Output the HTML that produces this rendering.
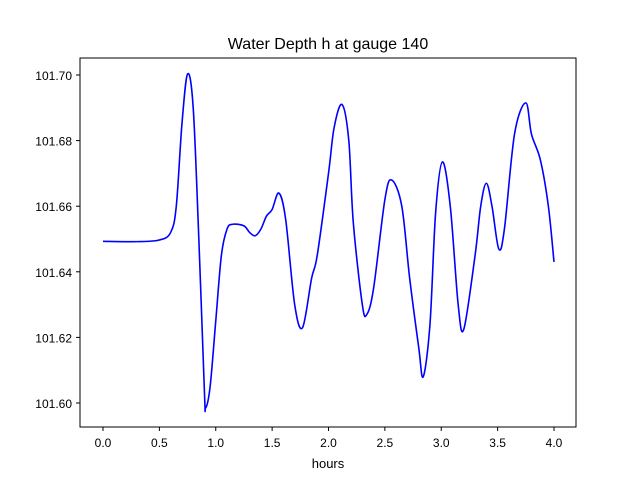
<!DOCTYPE html>
<html><head><meta charset="utf-8"><style>
body{margin:0;background:#fff;}
svg text{font-family:"Liberation Sans","DejaVu Sans",sans-serif;fill:#000;}
</style></head><body>
<svg id="chart" width="640" height="480">
<rect width="640" height="480" fill="#fff"/>
<text x="328" y="49" font-size="16" text-anchor="middle">Water Depth h at gauge 140</text>
<text x="328" y="468" font-size="13" text-anchor="middle">hours</text>
<g id="ticks"></g>
<path id="line" fill="none" stroke="#0000ff" stroke-width="1.6"/>
<rect x="80" y="58" width="496" height="369" fill="none" stroke="#000" stroke-width="1"/>
</svg>
<script>
const hours=[0,0.3,0.5,0.6,0.65,0.7,0.75,0.8,0.85,0.9,0.91,0.95,1.0,1.05,1.1,1.15,1.25,1.3,1.35,1.4,1.45,1.5,1.56,1.62,1.7,1.77,1.85,1.9,2.0,2.05,2.12,2.18,2.22,2.3,2.34,2.4,2.5,2.56,2.65,2.72,2.8,2.84,2.9,2.95,3.01,3.08,3.15,3.2,3.3,3.35,3.4,3.45,3.51,3.56,3.65,3.75,3.8,3.88,3.95,4.0];
const depth=[101.6493,101.6492,101.6497,101.652,101.66,101.685,101.7003,101.69,101.65,101.603,101.5985,101.605,101.625,101.645,101.653,101.6545,101.654,101.652,101.651,101.653,101.657,101.659,101.664,101.656,101.630,101.623,101.638,101.645,101.670,101.684,101.691,101.68,101.655,101.630,101.627,101.635,101.662,101.668,101.660,101.638,101.617,101.608,101.624,101.658,101.6735,101.660,101.630,101.6225,101.645,101.660,101.667,101.660,101.647,101.653,101.682,101.6915,101.682,101.674,101.660,101.643];
const xTicks=[0,0.5,1.0,1.5,2.0,2.5,3.0,3.5,4.0];
const yTicks=[101.60,101.62,101.64,101.66,101.68,101.70];
const X=v=>103+v*112.75;
const Y=v=>75+(101.70-v)*3280;
const NS="http://www.w3.org/2000/svg";
const g=document.getElementById('ticks');
function mk(t,a){const e=document.createElementNS(NS,t);for(const k in a)e.setAttribute(k,a[k]);g.appendChild(e);return e;}
xTicks.forEach(v=>{
 const l=mk('line',{x1:X(v),x2:X(v),y1:427,y2:431,stroke:'#000'});
 
 
 const t=mk('text',{x:X(v),y:447,'font-size':12,'text-anchor':'middle'});t.textContent=v.toFixed(1);
 
 
});
yTicks.forEach(v=>{
 const l=mk('line',{x1:76,x2:80,y1:Y(v),y2:Y(v),stroke:'#000'});
 
 
 const t=mk('text',{x:72,y:Y(v)+5,'font-size':12,'text-anchor':'end'});t.textContent=v.toFixed(2);
 
 
});
const P=hours.map((h,i)=>[X(h),Y(depth[i])]);
let d='M'+P[0][0]+','+P[0][1];
for(let i=0;i<P.length-1;i++){
 const p0=P[Math.max(i-1,0)],p1=P[i],p2=P[i+1],p3=P[Math.min(i+2,P.length-1)];
 const c1=[p1[0]+(p2[0]-p0[0])/6,p1[1]+(p2[1]-p0[1])/6];
 const c2=[p2[0]-(p3[0]-p1[0])/6,p2[1]-(p3[1]-p1[1])/6];
 d+=` C${c1[0]},${c1[1]} ${c2[0]},${c2[1]} ${p2[0]},${p2[1]}`;
}
document.getElementById('line').setAttribute('d',d);
</script>
</body></html>
